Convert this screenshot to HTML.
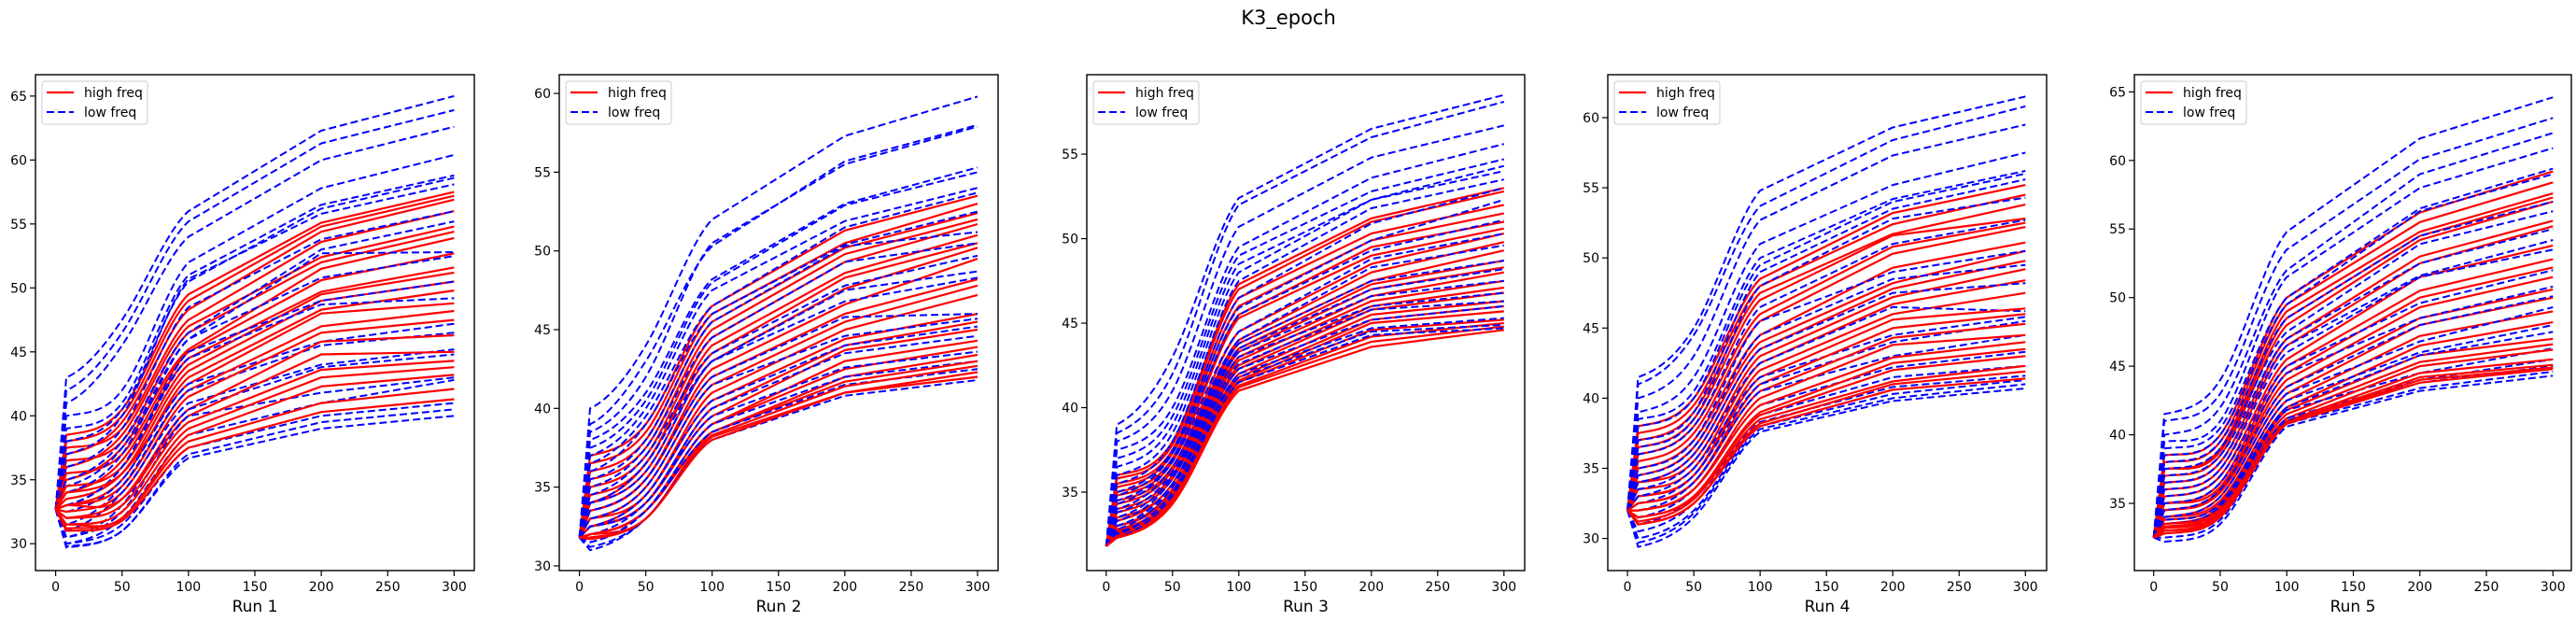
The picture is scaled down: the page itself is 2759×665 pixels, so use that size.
<!DOCTYPE html>
<html><head><meta charset="utf-8">
<style>
html,body{margin:0;padding:0;background:#fff;}
svg{display:block;font-family:"DejaVu Sans","Liberation Sans",sans-serif;}
</style></head>
<body>
<svg id="fig" width="2759" height="665" viewBox="0 0 2759 665" xmlns="http://www.w3.org/2000/svg">
<rect width="2759" height="665" fill="#fff"/>
<text x="1380" y="26" font-size="21" text-anchor="middle" fill="#000">K3_epoch</text>
</svg>
<script>
// x positions (epochs) of the sample points
const epochs = [0, 8, 50, 100, 200, 300];
const xTicks = [0, 50, 100, 150, 200, 250, 300];
const runLabels = ["Run 1", "Run 2", "Run 3", "Run 4", "Run 5"];
const startValues = [32.7, 31.8, 31.8, 32.0, 32.5];
const yTickSets = [
  [30,35,40,45,50,55,60,65],
  [30,35,40,45,50,55,60],
  [35,40,45,50,55],
  [30,35,40,45,50,55,60],
  [35,40,45,50,55,60,65]
];
const yDomains = [[27.9,66.67],[29.7,61.19],[30.36,59.7],[27.71,63.06],[30.1,66.25]];
// each line: values at epochs 8, 50, 100, 200, 300
const red1 = [[38.5,40.5,49.5,55.1,57.5],[38,40,49,54.8,57.2],[37,39.5,48.3,54.4,56.9],[37.5,39,47.5,53.6,56],[36,38.5,47,52.4,54.8],[36.5,38,46.5,52,54.4],[35,37.5,45.2,51.5,53.9],[35.5,37,45,50.6,52.7],[34,36.5,44.5,49.7,51.6],[34.5,36,44,49.5,51.2],[33.5,35.5,43.5,49,50.5],[33,35,43,48.3,49.8],[34,35.5,42.5,48,48.8],[33,34.5,42,47,48.2],[32.5,34,41.5,46.5,47.5],[32,33.5,40.5,45.8,46.3],[33,33.5,40,44.8,45],[32,33,39.5,43.6,44.3],[31.5,32.5,39,43,43.8],[31.5,32,38.5,42.3,43.2],[31.2,32,38,41,42.1],[31,31.8,37.5,40.3,41.3]];
const blue1 = [[43,47.5,56,62.3,65],[42,46.5,55.2,61.3,63.9],[41,45.5,54,60,62.6],[40,42,52,57.8,60.4],[39,41,51,56.5,58.8],[38,40.5,50.5,56.2,58.6],[37,40,50.7,55.8,58.1],[36,39,48.5,53.8,56],[35,38,46.5,53,55.2],[34.5,37.5,46,52.7,52.8],[34,37,46,50.8,52.5],[33,36,45,49,50.5],[33,36,44.5,48.7,49.2],[32.5,35,42.5,45.8,47.2],[31.5,34.5,42,45.5,46.5],[31,34,41,44,45.2],[30.5,33,40.5,43.8,44.8],[30.5,32.5,40,41.8,43],[30,32,38.5,41,42.8],[30,31.5,37.5,40,41],[29.8,31,37,39.5,40.5],[29.7,31,36.7,39,40]];
const red2 = [[37,39,46.5,51.3,53.5],[36.5,38.5,46,50.5,53],[36,38,45.5,50.2,52.4],[35.5,37.5,45,49.8,52],[35,37,44.5,49.3,51.7],[34.5,36.5,44,48.6,51],[34,36.5,43.5,48.3,50.5],[34,36,43,47.6,50.2],[33.5,35.5,42.5,46.6,49.5],[33.5,35.5,42,46,48.2],[33,35,41.5,45.5,47.8],[33,34.5,41,45,47.2],[32.5,34.5,40.5,44.4,46],[32.5,34,40,44,45.5],[32.5,34,39.5,43.7,45],[32,33.5,39,43,44.3],[32,33.5,39,42.5,43.9],[32,33.5,38.5,42,43.4],[32,33,38.5,41.7,43],[31.8,33,38.3,41.4,42.7],[31.8,33,38.2,41,42.3],[31.7,33,38,41,42]];
const blue2 = [[40,44,52,57.3,59.8],[39,43,50.3,55.7,58],[38.5,42,50.5,55.5,57.9],[38,41,48.2,53,55.3],[37.5,40.5,48,52.9,55],[37,40,47.5,51.9,54],[36.5,39.5,46.5,51.5,53.7],[36,39,46,50.4,52.5],[35.5,38,45.5,50.3,51.2],[35,37.5,44.5,49.3,50.5],[34.5,37,43.5,47.8,49.7],[34,36.5,43,47.5,48.7],[34,36,43,46.8,48.3],[33.5,35.5,42,45.8,46],[33,35,41.5,44.6,45.7],[32.5,34.5,40.5,44,45.2],[32.5,34,40,43.5,44.6],[32,34,39.5,42.6,43.6],[31.5,33.5,39,42,43],[31.5,33.5,38.5,41.5,42.5],[31.2,33,38,41,42],[31,33,38,40.8,41.8]];
const red3 = [[36,38,47.3,51.2,53],[35.8,37.8,47,51,52.8],[35.5,37.5,46.5,50.3,52],[35.3,37.3,46,49.9,51.5],[35,37,45.5,49.5,51],[34.8,36.8,45.3,49,50.6],[34.5,36.5,44.5,48.5,50.3],[34.3,36.3,44,48,49.8],[34,36,43.8,47.5,49.3],[33.8,35.8,43.5,47.3,48.7],[33.5,35.5,43.3,47,48.3],[33.3,35.5,43,46.6,48],[33,35.2,42.8,46.3,47.5],[33,35,42.5,46,47.1],[33,35,42.3,45.8,46.8],[32.8,34.8,42,45.5,46.3],[32.7,34.7,41.8,45.2,46],[32.6,34.6,41.6,45,45.7],[32.5,34.5,41.5,44.6,45.2],[32.5,34.5,41.3,44.2,45],[32.4,34.4,41.2,43.9,44.8],[32.3,34.3,41,43.6,44.6]];
const blue3 = [[39,43,52.4,56.5,58.5],[38.5,42,52,56,58.1],[38,41,50.7,54.8,56.7],[37.5,40,49.5,53.6,55.6],[37,39.5,49,52.8,54.7],[36.5,39,48.5,52.3,54.3],[36,38.5,48,52.3,54],[35.5,38,47.5,51.8,53.5],[35,37.5,46.5,50.9,53],[34.8,37.3,45.9,49.9,52.3],[34.5,37,45.5,49.3,51.1],[34.3,36.8,44.5,48.8,50.3],[34,36.5,44,48.3,49.6],[33.8,36.2,43.8,47.5,48.7],[33.5,36,43.5,47,48.2],[33.3,35.8,43.3,46.6,47.5],[33,35.5,43,46,46.8],[33,35.5,42.6,45.8,46.3],[32.8,35.3,42.3,45.2,46],[32.6,35,42,44.7,45.3],[32.5,35,41.8,44.5,44.9],[32.3,34.8,41.5,44.3,44.7]];
const red4 = [[38,40,48.5,53.2,55.2],[37.5,39.5,48,52.4,54.5],[37,39,47.5,51.7,53.8],[36.5,38.5,47,51.6,52.8],[36,38,46,50.8,52.5],[35.5,37.5,45.5,50.3,52.2],[35,37,44.5,49.3,51.1],[34.5,36.5,44,48.2,50.5],[34,36,43.5,47.8,49.8],[34,35.5,43,47.2,49.2],[33.5,35,42.5,46.7,48.4],[33,34.5,42,46,47.5],[33,34.5,41.5,45.6,46.4],[32.5,34,41,45,46],[32.5,34,40.5,44.3,45.3],[32,33.5,40,43.8,44.5],[32,33.5,39.5,42.9,44],[31.5,33,39,42.5,43.5],[31.5,33,38.8,42,43],[31.2,32.8,38.5,41.2,42.3],[31,32.5,38.2,41,41.9],[31,32.5,38,40.6,41.4]];
const blue4 = [[41.5,45,54.8,59.3,61.5],[41,44.5,53.7,58.4,60.8],[40,43,52.7,57.3,59.5],[39,41.5,51,55.2,57.5],[38.5,40.5,50,54.2,56.2],[38,40,49.5,54,56],[37,39,49,53.5,55.6],[36.5,38.5,48,52.8,54.3],[36,38,46.5,51,52.7],[35,37,45.5,49,50.5],[34.5,36.5,44.5,48.5,49.5],[34,36,43.5,47.5,48.2],[33.5,35.5,42.5,46.5,46.2],[33,35,41.5,44.5,45.8],[32.5,34.5,41,44,45.5],[32,34,40.5,43,44.5],[31.5,33.5,39.5,42.2,43.3],[31,33,38.8,41.5,42.3],[30.5,32.5,38.3,40.8,41.6],[30,32,38,40.3,41.3],[29.7,31.8,37.8,40,41],[29.4,31.5,37.6,39.8,40.7]];
const red5 = [[38.5,40,50,56.2,59.2],[38,39.5,49.5,55.5,58.4],[37.5,39,49,54.8,57.6],[37.5,38.8,48.5,54.5,57.3],[37,38.5,48,54.2,57],[36.5,38,47,53,55.6],[36,37.5,46.5,52.5,55.2],[35.5,37,45.5,51.5,53.8],[35,36.5,45,50.5,52.8],[35,36.2,44.5,50,52.2],[34.5,36,44,49.3,51.5],[34.5,35.8,43.5,48.5,50.6],[34,35.5,43,48,50],[34,35.2,42.5,47.2,49],[33.8,35,42,46.5,48.2],[33.5,34.8,41.8,45.8,47],[33.5,34.6,41.5,45.3,46.6],[33.3,34.5,41.2,45,46.2],[33.2,34.3,41,44.5,45.5],[33,34.2,40.9,44.2,45.1],[33,34,40.8,44,44.9],[32.8,34,40.8,43.8,44.8]];
const blue5 = [[41.5,44,54.8,61.6,64.6],[41,43,53.5,60.1,63.1],[40,42,52,59,62],[39.5,41,51.5,58,60.9],[39,40.5,50,56.5,59.4],[38.5,40,49.5,56.3,59],[38,39.5,48.5,54.5,57],[37.5,39,47.5,53.9,56.3],[37,38.5,47,52.5,55],[36.5,38,46.5,51.6,54.2],[36,37.5,46,51.5,53.5],[35.5,37,45,49.6,52],[35,36.5,44.5,48.5,50.8],[34.5,36,43.5,48,50.1],[34,35.5,43,46.8,49.3],[33.8,35,42.5,46,48],[33.5,34.8,42,45.8,47.5],[33.2,34.5,41.8,44.5,46.3],[33,34.2,41.2,44,45.5],[32.8,34,41,43.8,45],[32.5,33.8,40.8,43.4,44.6],[32.2,33.5,40.6,43.2,44.3]];
const redSets = [red1, red2, red3, red4, red5];
const blueSets = [blue1, blue2, blue3, blue4, blue5];

// layout (not data)
const boxes = [[38,508],[599,1069],[1164,1633],[1722,2192],[2286,2754]];
const xZero = [[59.6,486.4],[620.6,1047],[1184.8,1610.8],[1743.1,2169.3],[2306.7,2734.3]];
const TOP = 80, BOT = 611;
const NS = "http://www.w3.org/2000/svg";
const svg = document.getElementById('fig');

function mk(tag, attrs, parent) {
  const e = document.createElementNS(NS, tag);
  for (const k in attrs) e.setAttribute(k, attrs[k]);
  parent.appendChild(e);
  return e;
}

function pathFor(vals, x, y) {
  const ex = epochs, ev = vals;
  const s = [];
  for (let i = 0; i < ev.length - 1; i++) s.push((ev[i+1] - ev[i]) / (ex[i+1] - ex[i]));
  // tangents: sharp spike at first point, gentle rise, steep climb, knee at 100
  const m = [s[0], s[1] * 0.4, (s[1] + s[2]) / 2 * 1.1, s[2] * 0.55, 0, 0];
  let d = "M" + x(ex[0]).toFixed(1) + "," + y(ev[0]).toFixed(1);
  // first segment straight (spike/dip)
  d += " L" + x(ex[1]).toFixed(1) + "," + y(ev[1]).toFixed(1);
  for (let i = 1; i < 3; i++) {
    const h = ex[i+1] - ex[i];
    const c1x = x(ex[i] + h/3), c1y = y(ev[i] + m[i]*h/3);
    const c2x = x(ex[i+1] - h/3), c2y = y(ev[i+1] - m[i+1]*h/3);
    d += " C" + c1x.toFixed(1) + "," + c1y.toFixed(1) + " " + c2x.toFixed(1) + "," + c2y.toFixed(1) + " " + x(ex[i+1]).toFixed(1) + "," + y(ev[i+1]).toFixed(1);
  }
  for (let i = 4; i < ex.length; i++) d += " L" + x(ex[i]).toFixed(1) + "," + y(ev[i]).toFixed(1);
  return d;
}

runLabels.forEach((label, p) => {
  const g = mk('g', {}, svg);
  
  
  const [L, R] = boxes[p];
  const [x0px, x300px] = xZero[p];
  const [ymin, ymax] = yDomains[p];
  const x = v => x0px + (v / 300) * (x300px - x0px);
  const y = v => BOT - (v - ymin) / (ymax - ymin) * (BOT - TOP);

  const clip = mk('clipPath', {id: 'clip' + p}, g);
  mk('rect', {x: L, y: TOP, width: R - L, height: BOT - TOP}, clip);
  const lines = mk('g', {'clip-path': 'url(#clip' + p + ')'}, g);
  
  

  const reds = redSets[p], blues = blueSets[p];
  const n = Math.max(reds.length, blues.length);
  for (let i = 0; i < n; i++) {
    if (blues[i]) {
      const pb = mk('path', {d: pathFor([startValues[p]].concat(blues[i]), x, y), fill: 'none', stroke: '#0000ff', 'stroke-width': 2.0, 'stroke-dasharray': '8,4'}, lines);
      
      
    }
    if (reds[i]) {
      const pr = mk('path', {d: pathFor([startValues[p]].concat(reds[i]), x, y), fill: 'none', stroke: '#ff0000', 'stroke-width': 2.2}, lines);
      
      
    }
  }

  const frame = mk('rect', {x: L, y: TOP, width: R - L, height: BOT - TOP, fill: 'none', stroke: '#000', 'stroke-width': 1.4}, g);
  
  

  xTicks.forEach(t => {
    const px = x(t);
    const tk = mk('line', {x1: px, x2: px, y1: BOT, y2: BOT + 6, stroke: '#000', 'stroke-width': 1.2}, g);
    
    
    const tl = mk('text', {x: px, y: BOT + 22, 'font-size': 14, 'text-anchor': 'middle', fill: '#000'}, g);
    tl.textContent = t;
    
    
  });
  yTickSets[p].forEach(t => {
    const py = y(t);
    const tk = mk('line', {x1: L - 6, x2: L, y1: py, y2: py, stroke: '#000', 'stroke-width': 1.2}, g);
    
    
    const tl = mk('text', {x: L - 9, y: py + 5, 'font-size': 14, 'text-anchor': 'end', fill: '#000'}, g);
    tl.textContent = t;
    
    
  });
  const xl = mk('text', {x: (L + R) / 2, y: 655, 'font-size': 17, 'text-anchor': 'middle', fill: '#000'}, g);
  xl.textContent = label;
  
  

  // legend
  const lg = mk('g', {}, g);
  
  
  mk('rect', {x: L + 7, y: TOP + 7, width: 113, height: 46, rx: 3, fill: '#fff', 'fill-opacity': 0.8, stroke: '#ccc', 'stroke-width': 1}, lg);
  const e1 = mk('g', {}, lg);
  
  
  mk('line', {x1: L + 12, x2: L + 41, y1: TOP + 19, y2: TOP + 19, stroke: '#ff0000', 'stroke-width': 2.2}, e1);
  const t1 = mk('text', {x: L + 52, y: TOP + 24, 'font-size': 14, fill: '#000'}, e1);
  t1.textContent = 'high freq';
  const e2 = mk('g', {}, lg);
  
  
  mk('line', {x1: L + 12, x2: L + 41, y1: TOP + 40, y2: TOP + 40, stroke: '#0000ff', 'stroke-width': 2.0, 'stroke-dasharray': '8,4'}, e2);
  const t2 = mk('text', {x: L + 52, y: TOP + 45, 'font-size': 14, fill: '#000'}, e2);
  t2.textContent = 'low freq';
});
</script>
</body></html>
